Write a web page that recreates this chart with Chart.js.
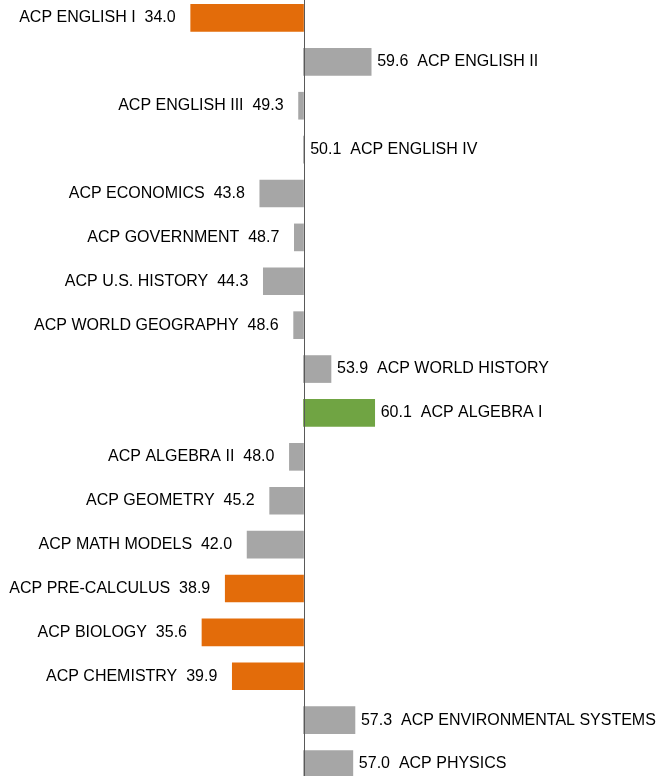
<!DOCTYPE html>
<html><head><meta charset="utf-8">
<script src="https://cdn.jsdelivr.net/npm/chart.js@4/dist/chart.umd.min.js"></script>
<style>
html,body{margin:0;padding:0;background:#fff;overflow:hidden;width:657px;height:776px;}
#wrap{position:absolute;left:0;top:-4.5px;width:657px;height:790px;}
</style></head><body>
<div id="wrap"><canvas id="c"></canvas></div>
<script>
const categories = ["ACP ENGLISH I","ACP ENGLISH II","ACP ENGLISH III","ACP ENGLISH IV","ACP ECONOMICS","ACP GOVERNMENT","ACP U.S. HISTORY","ACP WORLD GEOGRAPHY","ACP WORLD HISTORY","ACP ALGEBRA I","ACP ALGEBRA II","ACP GEOMETRY","ACP MATH MODELS","ACP PRE-CALCULUS","ACP BIOLOGY","ACP CHEMISTRY","ACP ENVIRONMENTAL SYSTEMS","ACP PHYSICS"];
const values = [34.0,59.6,49.3,50.1,43.8,48.7,44.3,48.6,53.9,60.1,48.0,45.2,42.0,38.9,35.6,39.9,57.3,57.0];
const baseline = 50;

const ORANGE = "#E36C0A", GRAY = "#A6A6A6", GREEN = "#70A443";
const colors = values.map(v => v < 40 ? ORANGE : (v > 60 ? GREEN : GRAY));

const labelPlugin = {
  id: "labels",
  afterDatasetsDraw(chart) {
    const ctx = chart.ctx;
    const xs = chart.scales.x;
    const meta = chart.getDatasetMeta(0);
    const x0 = xs.getPixelForValue(baseline);
    ctx.save();
    ctx.strokeStyle = "#595959";
    ctx.lineWidth = 1;
    ctx.beginPath();
    ctx.moveTo(Math.round(x0) + 0.5, 0);
    ctx.lineTo(Math.round(x0) + 0.5, chart.height);
    ctx.stroke();
    ctx.font = "16px Arial, 'Liberation Sans', sans-serif";
    ctx.fillStyle = "#000";
    ctx.textBaseline = "middle";
    meta.data.forEach((bar, i) => {
      const v = values[i];
      const y = bar.y;
      const xe = xs.getPixelForValue(v);
      if (v < baseline) {
        ctx.textAlign = "right";
        ctx.fillText(categories[i] + "  " + v.toFixed(1), xe - 15, y);
      } else {
        ctx.textAlign = "left";
        ctx.fillText(v.toFixed(1) + "  " + categories[i], xe + 6, y);
      }
    });
    ctx.restore();
  }
};

new Chart(document.getElementById("c"), {
  type: "bar",
  data: {
    labels: categories,
    datasets: [{
      data: values.map(v => [baseline, v]),
      backgroundColor: colors,
      borderWidth: 0,
      barThickness: 27
    }]
  },
  options: {
    indexAxis: "y",
    responsive: true,
    maintainAspectRatio: false,
    animation: false,
    layout: { padding: 0 },
    plugins: { legend: { display: false }, tooltip: { enabled: false } },
    scales: {
      x: { min: 50 - 303.5/7.05, max: 50 + 353.5/7.05, display: false, grid: { display: false } },
      y: { display: false, grid: { display: false }, offset: true }
    }
  },
  plugins: [labelPlugin]
});
</script>
</body></html>
